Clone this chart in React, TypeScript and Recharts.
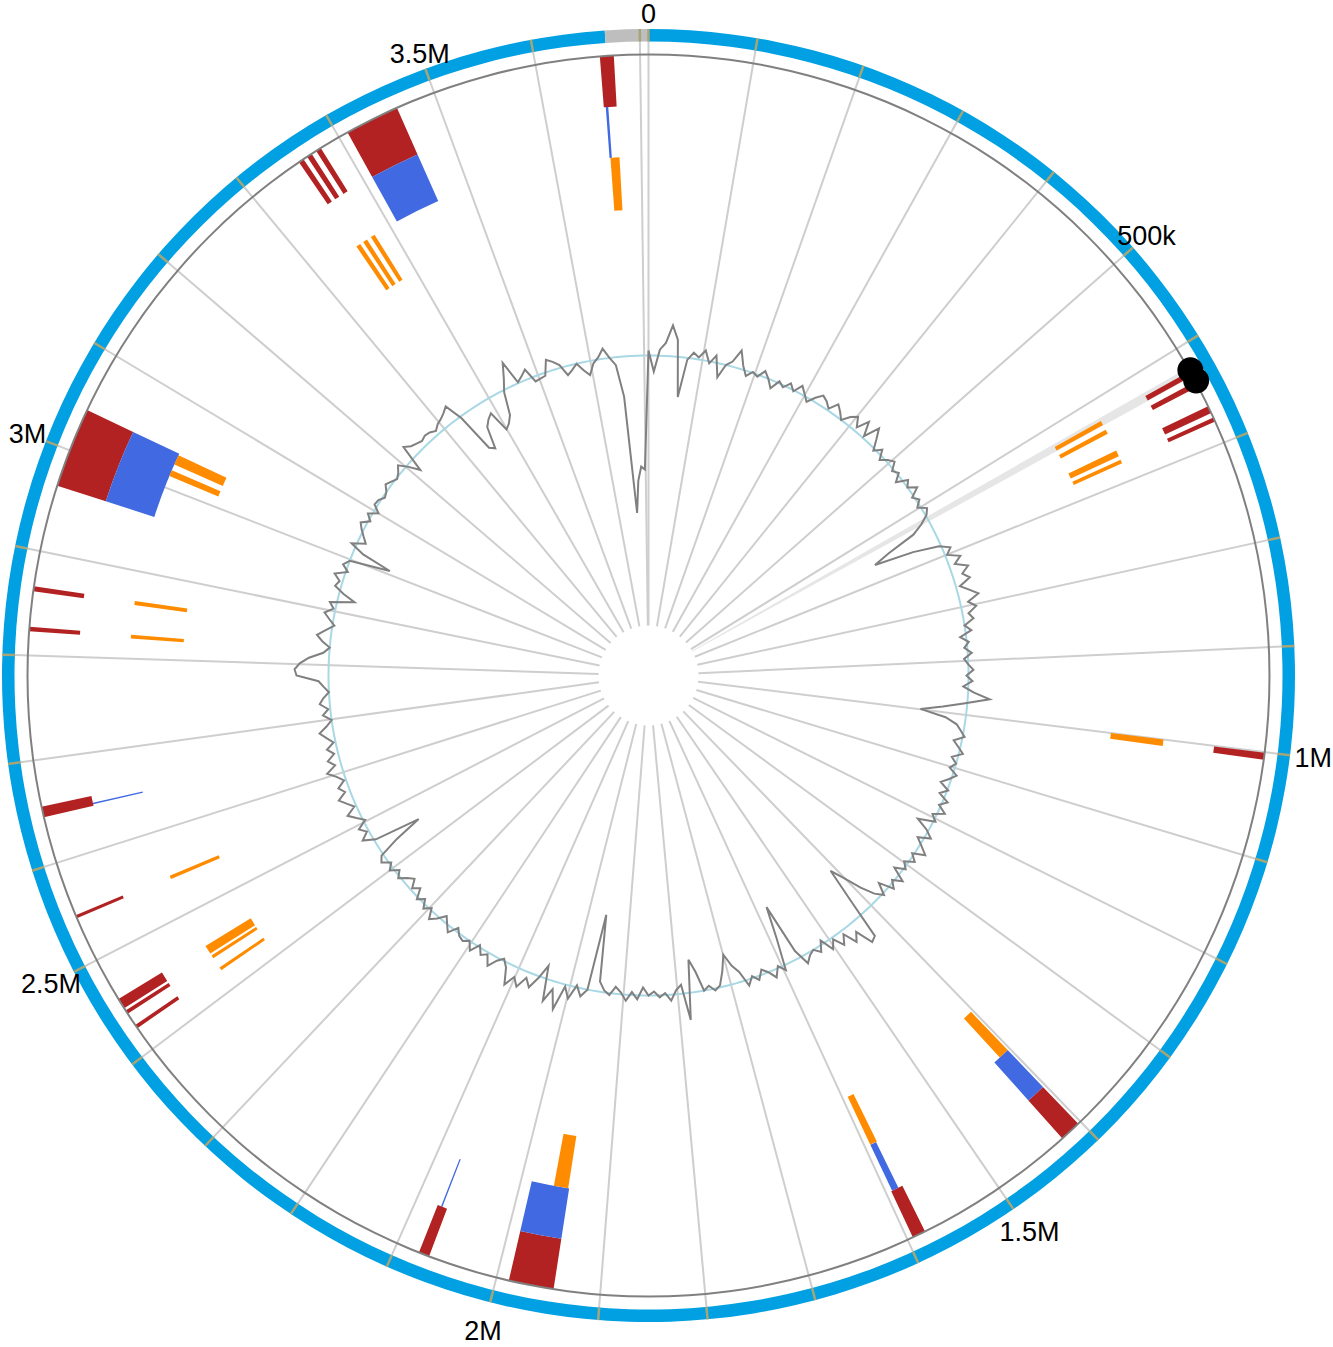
import React from 'react';
import { PieChart, Pie, Cell, RadarChart, Radar, PolarAngleAxis, PolarRadiusAxis } from 'recharts';

// genome (bp)
const chromosomeLength = 3668000;
const plasmidLength = 40000;
const genomeLength = chromosomeLength + plasmidLength;
const tickStep = 100000;
const labelStep = 500000;

// feature tracks, [start, end] in kb
const redTrack = [
  [624.7, 629.8], [636.0, 641.2], [662.3, 669.5], [674.1, 678.3],
  [1000.6, 1007.3], [1402.9, 1423.5], [1581.6, 1594.4], [1944.6, 1987.9],
  [2067.2, 2077.5], [2424.6, 2428.2], [2441.1, 2444.7], [2447.3, 2457.6],
  [2544.1, 2547.2], [2645.0, 2655.3], [2823.2, 2827.4], [2861.3, 2866.0],
  [2964.3, 3041.6], [3355.2, 3360.4], [3364.5, 3369.6], [3374.8, 3379.9],
  [3409.3, 3461.8], [3661.7, 3675.0],
];
const blueTrack = [
  [1402.9, 1423.5], [1586.2, 1593.4], [1944.6, 1987.9], [2072.4, 2073.9],
  [2646.6, 2648.1], [2964.3, 3041.6], [3409.3, 3461.8], [3663.7, 3666.3],
];
const orangeTrack = [
  [624.7, 629.8], [636.0, 641.2], [662.3, 669.5], [674.1, 678.3],
  [1000.1, 1007.3], [1402.9, 1415.2], [1585.2, 1593.4], [1945.7, 1962.2],
  [2424.6, 2428.2], [2441.1, 2444.7], [2447.3, 2457.6], [2543.1, 2547.2],
  [2823.2, 2827.4], [2861.3, 2866.0], [3013.8, 3021.0], [3028.2, 3039.5],
  [3355.2, 3360.4], [3364.5, 3369.6], [3374.8, 3379.9], [3664.7, 3675.0],
];
const highlightRegion = [[621.0, 630.4]];
const markerPositions = [624.2, 635.5];

// GC content per 1/360 of the genome
const gcMean = 32.0;
const gcContent = [
  32.5, 30.4, 32.6, 33.3, 35.1, 33.7, 28.0, 31.8, 32.6, 32.2, 33.0, 31.8, 32.7, 30.6, 32.0, 32.5, 33.8, 32.4, 31.5, 32.1,
  31.8, 32.6, 32.0, 31.2, 32.2, 31.8, 32.5, 31.9, 32.8, 32.2, 31.6, 32.4, 33.0, 32.7, 32.2, 33.1, 32.6, 32.0, 32.8, 33.3,
  32.4, 33.6, 32.2, 33.8, 32.8, 31.8, 32.5, 31.6, 32.2, 32.6, 31.8, 32.2, 31.4, 32.5, 32.0, 32.8, 31.8, 32.3, 31.7, 32.5,
  32.1, 31.2, 30.0, 27.0, 25.2, 29.2, 31.8, 32.8, 32.2, 33.4, 32.6, 33.8, 33.0, 33.6, 32.4, 33.2, 34.0, 32.8, 33.5, 32.6,
  33.0, 32.0, 32.6, 31.4, 32.2, 31.7, 32.4, 31.6, 32.0, 32.5, 31.8, 32.4, 31.5, 32.6, 34.2, 31.8, 29.6, 27.4, 30.0, 31.2,
  31.7, 32.2, 31.2, 31.8, 32.4, 31.4, 32.0, 31.5, 32.4, 31.8, 31.1, 32.1, 31.4, 32.5, 31.8, 32.7, 31.6, 32.2, 30.5, 31.8,
  32.6, 31.4, 32.2, 33.0, 31.8, 32.5, 31.6, 32.2, 31.2, 32.7, 31.8, 32.5, 31.0, 32.2, 31.4, 30.0, 28.2, 26.7, 30.0, 34.5,
  34.8, 33.0, 33.8, 32.4, 33.3, 32.2, 33.0, 31.6, 32.6, 32.0, 32.3, 32.9, 31.2, 26.0, 29.2, 32.5, 31.8, 32.8, 32.0, 31.5,
  32.4, 31.8, 32.6, 31.0, 30.2, 28.9, 30.5, 31.8, 32.2, 31.6, 32.0, 30.0, 28.7, 34.7, 31.1, 31.6, 32.6, 31.8, 32.2, 31.6,
  32.0, 31.2, 32.4, 31.7, 32.6, 31.8, 31.3, 32.2, 31.8, 31.0, 24.3, 32.0, 32.8, 31.8, 33.3, 32.2, 34.7, 32.8, 34.2, 30.7,
  32.2, 33.4, 32.6, 33.8, 33.0, 34.1, 32.5, 31.8, 32.3, 33.2, 32.2, 32.6, 31.8, 32.8, 32.0, 32.4, 32.2, 31.6, 32.6, 32.0,
  31.4, 32.2, 32.8, 31.8, 32.4, 31.6, 32.2, 31.2, 31.8, 31.0, 31.5, 32.2, 31.6, 32.4, 31.8, 32.6, 32.2, 30.0, 27.1, 31.8,
  33.0, 32.2, 32.8, 31.8, 32.5, 33.2, 32.2, 32.8, 33.4, 32.5, 33.0, 32.2, 32.8, 33.6, 32.6, 33.2, 32.4, 33.0, 32.2, 32.8,
  33.4, 32.6, 32.0, 32.8, 32.2, 33.0, 32.6, 32.0, 32.5, 33.0, 35.2, 35.4, 34.9, 34.0, 32.6, 32.0, 32.8, 33.4, 32.6, 31.8,
  32.4, 33.0, 32.2, 32.7, 30.3, 31.6, 32.6, 32.3, 33.0, 31.8, 32.5, 32.0, 27.9, 31.0, 32.5, 31.2, 31.7, 32.2, 32.6, 31.8,
  32.4, 31.5, 32.3, 32.2, 31.8, 32.0, 32.5, 32.2, 31.9, 32.2, 32.7, 31.8, 30.7, 33.5, 33.0, 32.8, 32.6, 32.8, 32.7, 32.4,
  32.8, 33.0, 33.3, 33.7, 31.8, 27.8, 27.4, 29.6, 30.2, 30.6, 28.4, 28.8, 29.5, 31.8, 33.0, 34.5, 32.1, 32.5, 33.0, 31.5,
  31.6, 31.7, 33.2, 32.8, 32.3, 31.1, 31.5, 32.0, 31.2, 30.6, 31.7, 32.2, 33.0, 32.0, 31.2, 28.0, 16.3, 19.5, 20.9, 20.6,
];

const W = 1333;
const H = 1347;
const CX = 648.5;
const CY = 675.5;
const RAD = Math.PI / 180;
const FONT = '"Liberation Sans", Arial, Helvetica, sans-serif';

const polar = (cx: number, cy: number, r: number, angle: number) => ({
  x: cx + r * Math.cos(-angle * RAD),
  y: cy + r * Math.sin(-angle * RAD),
});

type Seg = { value: number; start: number; fill: string; mark: boolean };

const toSegments = (features: number[][], fill: string): Seg[] => {
  const out: Seg[] = [];
  let cursor = 0;
  const sorted = [...features].sort((a, b) => a[0] - b[0]);
  for (const [s, e] of sorted) {
    const a = s * 1000;
    const b = e * 1000;
    if (a > cursor) out.push({ value: a - cursor, start: cursor, fill: 'none', mark: false });
    out.push({ value: b - a, start: a, fill, mark: true });
    cursor = b;
  }
  if (cursor < genomeLength) out.push({ value: genomeLength - cursor, start: cursor, fill: 'none', mark: false });
  return out;
};

const tickData: Seg[] = [];
for (let p = 0; p < genomeLength; p += tickStep) {
  tickData.push({ value: Math.min(tickStep, genomeLength - p), start: p, fill: 'none', mark: true });
}

const ringData = [
  { value: chromosomeLength, fill: '#00a0e3' },
  { value: plasmidLength, fill: '#bebebe' },
];

const markerData = toSegments(markerPositions.map((p) => [p, p + 0.001]), '#000');
const gcData = gcContent.map((gc, i) => ({ bin: i, gc, mean: gcMean }));

const formatTick = (v: number) => {
  if (v === 0) return '0';
  if (v < 1000000) return `${v / 1000}k`;
  return `${v / 1000000}M`;
};

const spokeLabel = (props: any) => {
  const { cx, cy, startAngle } = props;
  const a = polar(cx, cy, 50, startAngle);
  const b = polar(cx, cy, 634, startAngle);
  return <line x1={a.x} y1={a.y} x2={b.x} y2={b.y} stroke="#cecece" strokeWidth={2} />;
};

const ringTickLabel = (props: any) => {
  const { cx, cy, startAngle } = props;
  const start = props.payload?.start ?? props.start;
  const a = polar(cx, cy, 634, startAngle);
  const b = polar(cx, cy, 646.5, startAngle);
  let text = null;
  if (start % labelStep === 0) {
    const theta = (90 - startAngle) * RAD;
    const r = 662 + 7 * (1 - Math.cos(theta));
    const p = polar(cx, cy, r, startAngle);
    text = (
      <text x={p.x} y={p.y} textAnchor="middle" dominantBaseline="central" fontSize={27} fontFamily={FONT} fill="#000">
        {formatTick(start)}
      </text>
    );
  }
  return (
    <g>
      <line x1={a.x} y1={a.y} x2={b.x} y2={b.y} stroke="#a5a578" strokeWidth={2.5} />
      {text}
    </g>
  );
};

const markerLabel = (props: any) => {
  const mark = props.payload?.mark ?? props.mark;
  if (!mark) return null;
  const p = polar(props.cx, props.cy, 622, props.midAngle);
  return <circle cx={p.x} cy={p.y} r={13} fill="#000" />;
};

const common = {
  cx: CX,
  cy: CY,
  startAngle: 90,
  endAngle: -270,
  dataKey: 'value',
  isAnimationActive: false,
  stroke: 'none',
  labelLine: false,
};

const TrackPie = ({ data, inner, outer, label }: { data: any[]; inner: number; outer: number; label?: any }) => (
  <Pie {...common} data={data} innerRadius={inner} outerRadius={outer} label={label ?? false}>
    {data.map((d, i) => (
      <Cell key={i} fill={d.fill} stroke="none" />
    ))}
  </Pie>
);

const layer: React.CSSProperties = { position: 'absolute', left: 0, top: 0 };
const noMargin = { top: 0, right: 0, bottom: 0, left: 0 };

const App = () => {
  return (
    <div style={{ position: 'relative', width: W, height: H, background: '#fff' }}>
      <style>{'body{margin:0;}'}</style>
      <div style={layer}>
        <PieChart width={W} height={H} margin={noMargin}>
          {TrackPie({ data: tickData, inner: 50, outer: 634, label: spokeLabel })}
        </PieChart>
      </div>
      <div style={layer}>
        <PieChart width={W} height={H} margin={noMargin}>
          {TrackPie({ data: toSegments(highlightRegion, '#e6e6e6'), inner: 50, outer: 612 })}
          {TrackPie({ data: toSegments(redTrack, '#b22222'), inner: 570, outer: 621 })}
          {TrackPie({ data: toSegments(blueTrack, '#4169e1'), inner: 519, outer: 570 })}
          {TrackPie({ data: toSegments(orangeTrack, '#ff8c00'), inner: 466, outer: 519 })}
          {TrackPie({ data: [{ value: genomeLength, fill: '#808080' }], inner: 620, outer: 622 })}
          {TrackPie({ data: ringData, inner: 634, outer: 646.5 })}
        </PieChart>
      </div>
      <div style={layer}>
        <PieChart width={W} height={H} margin={noMargin}>
          {TrackPie({ data: tickData, inner: 634, outer: 646.5, label: ringTickLabel })}
          {TrackPie({ data: markerData, inner: 620, outer: 622, label: markerLabel })}
        </PieChart>
      </div>
      <div style={layer}>
        <RadarChart
          width={W}
          height={H}
          cx={CX}
          cy={CY}
          innerRadius={0}
          outerRadius={400}
          startAngle={90}
          endAngle={-270}
          data={gcData}
          margin={noMargin}
        >
          <PolarAngleAxis dataKey="bin" tick={false} axisLine={false} tickLine={false} />
          <PolarRadiusAxis domain={[0, 40]} tick={false} axisLine={false} />
          <Radar dataKey="mean" stroke="#a8d8e4" strokeWidth={2} fill="none" dot={false} isAnimationActive={false} />
          <Radar dataKey="gc" stroke="#808080" strokeWidth={2} fill="none" dot={false} isAnimationActive={false} />
        </RadarChart>
      </div>
    </div>
  );
};

export default App;
